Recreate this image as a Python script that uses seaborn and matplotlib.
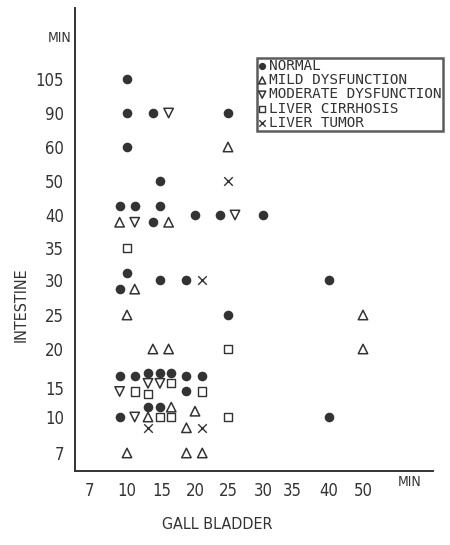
import matplotlib
matplotlib.use('Agg')
import seaborn as sns
import pandas as pd
import numpy as np
import matplotlib.pyplot as plt
from matplotlib.scale import FuncScale

# tick values of the two (hand drawn, non linear) axes
x_ticks = [7, 10, 15, 20, 25, 30, 35, 40, 50]
y_ticks = [7, 10, 15, 20, 25, 30, 35, 40, 50, 60, 90, 105]

# gall bladder time / intestine time (min)
normal_x = [10, 10, 13.7, 25, 10, 14.7, 9.4, 11.1, 14.7, 13.7, 20, 23.8, 30,
            10, 9.4, 14.7, 18.7, 25, 40, 9.4, 11.1, 13, 14.7, 16.4, 18.7, 21.1,
            18.7, 13, 14.7, 9.4, 40]
normal_y = [105, 90, 90, 90, 60, 50, 42.6, 42.6, 42.6, 38.9, 40, 40, 40,
            31.1, 28.7, 30, 30, 25, 30, 16.5, 16.5, 16.9, 16.9, 16.9, 16.5, 16.5,
            14.4, 11.7, 11.7, 10, 10]
mild_x = [25, 9.4, 16, 11.1, 10, 13.7, 16, 50, 50, 16.4, 20, 13, 18.7, 10, 18.7, 21.1]
mild_y = [60, 38.9, 38.9, 28.7, 25, 20, 20, 25, 20, 11.7, 11, 10, 9.1, 7, 7, 7]
moderate_x = [16, 11.1, 26, 13, 14.7, 9.4, 11.1]
moderate_y = [90, 38.9, 40, 15.6, 15.6, 14.4, 10]
cirrhosis_x = [10, 25, 16.4, 11.1, 13, 21.1, 14.7, 16.4, 25]
cirrhosis_y = [35, 20, 15.6, 14.4, 14, 14.4, 10, 10, 10]
tumor_x = [25, 21.1, 13, 21.1]
tumor_y = [50, 30, 9.1, 9.1]

groups = ["NORMAL", "MILD DYSFUNCTION", "MODERATE DYSFUNCTION",
          "LIVER CIRRHOSIS", "LIVER TUMOR"]

frames = []
for g, xs, ys in zip(groups,
                     [normal_x, mild_x, moderate_x, cirrhosis_x, tumor_x],
                     [normal_y, mild_y, moderate_y, cirrhosis_y, tumor_y]):
    frames.append(pd.DataFrame({"gall": xs, "intestine": ys, "group": g}))
df = pd.concat(frames, ignore_index=True)

# piecewise axis scales (anchor value -> pixel position on the page)
x_anchor_v = [6] + x_ticks + [70]
x_anchor_p = [75, 90, 127, 162, 195, 228, 263, 292, 329, 363, 433]
y_anchor_v = [4] + y_ticks + [130]
y_anchor_p = [545 - p for p in [471, 453, 417, 388, 349, 315, 280, 248, 215, 181, 147, 113, 79, 8]]


def make_scale(vals, pos):
    fwd = lambda v: np.interp(v, vals, pos)
    inv = lambda p: np.interp(p, pos, vals)
    return fwd, inv


sns.set_style("white")
plt.rcParams['font.family'] = ['DejaVu Sans']
plt.rcParams['font.stretch'] = 'condensed'
ink = "#333333"
lab = dict(fontsize=11.5, color=ink, fontstretch="condensed")

fig = plt.figure(figsize=(4.5, 5.45), dpi=100)
ax = fig.add_axes([75 / 450, 74 / 545, 358 / 450, 463 / 545])

ax.set_xscale(FuncScale(ax, make_scale(x_anchor_v, x_anchor_p)))
ax.set_yscale(FuncScale(ax, make_scale(y_anchor_v, y_anchor_p)))

styles = {
    "NORMAL": dict(marker="o", s=48, color=ink, edgecolor=ink, linewidth=0),
    "MILD DYSFUNCTION": dict(marker="^", s=46, facecolors="none", edgecolors=ink, linewidth=1.1),
    "MODERATE DYSFUNCTION": dict(marker="v", s=46, facecolors="none", edgecolors=ink, linewidth=1.1),
    "LIVER CIRRHOSIS": dict(marker="s", s=36, facecolors="none", edgecolors=ink, linewidth=1.0),
    "LIVER TUMOR": dict(marker="x", s=38, color=ink, linewidth=1.0),
}
for g in groups:
    sns.scatterplot(data=df[df["group"] == g], x="gall", y="intestine", ax=ax,
                    label=g, **styles[g])

ax.set_xlim(6, 70)
ax.set_ylim(4, 130)
ax.set_xticks(x_ticks)
ax.set_yticks(y_ticks)
ax.set_xticklabels([str(t) for t in x_ticks])
ax.set_yticklabels([str(t) for t in y_ticks])
ax.minorticks_off()
ax.tick_params(length=0, labelsize=12, colors=ink)
ax.tick_params(axis="x", pad=8)
ax.tick_params(axis="y", pad=8)
for t in ax.get_xticklabels() + ax.get_yticklabels():
    t.set_fontstretch("condensed")

for side in ["top", "right"]:
    ax.spines[side].set_visible(False)
for side in ["left", "bottom"]:
    ax.spines[side].set_color(ink)
    ax.spines[side].set_linewidth(1.4)

ax.set_xlabel("GALL BLADDER", **lab)
ax.xaxis.set_label_coords(0.397, -0.1)
ax.set_ylabel("INTESTINE", **lab)
ax.yaxis.set_label_coords(-0.13, 0.36)

ax.text(-0.042, 0.935, "MIN", transform=ax.transAxes, ha="center", va="center",
        fontsize=10, color=ink, fontstretch="condensed")
ax.text(0.936, -0.024, "MIN", transform=ax.transAxes, ha="center", va="center",
        fontsize=10, color=ink, fontstretch="condensed")

leg = ax.legend(loc="upper left", bbox_to_anchor=(257 / 450, 1 - 58 / 545),
                bbox_transform=fig.transFigure, frameon=True, fancybox=False,
                prop={"family": "DejaVu Sans Mono", "size": 10.4},
                handlelength=0.6, handletextpad=0.2, borderpad=0.06,
                labelspacing=0.02, borderaxespad=0, markerscale=0.75)
leg.get_frame().set_edgecolor(ink)
leg.get_frame().set_linewidth(1.8)
for t in leg.get_texts():
    t.set_color(ink)

fig.savefig("out.png", dpi=100, facecolor="white")
